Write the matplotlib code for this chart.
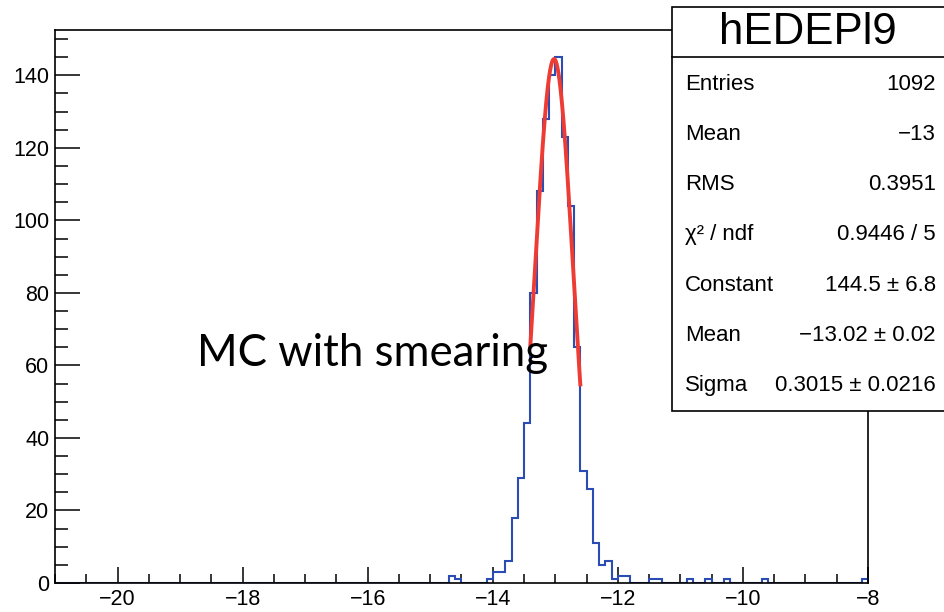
import numpy as np
import matplotlib.pyplot as plt
from matplotlib.patches import Rectangle
from matplotlib.ticker import MultipleLocator

plt.rcParams['font.family'] = ['Liberation Sans', 'DejaVu Sans']

# histogram hEDEPl9: 130 bins of 0.1 from -21 to -8, only non-empty bins listed
bin_low = [-14.7, -14.6, -14.1, -14.0, -13.9, -13.8, -13.7, -13.6, -13.5,
           -13.4, -13.3, -13.2, -13.1, -13.0, -12.9, -12.8, -12.7,
           -12.6, -12.5, -12.4, -12.3, -12.2, -12.1, -12.0, -11.9,
           -11.5, -11.4, -10.9, -10.6, -10.3, -9.7, -8.1]
counts = [2, 1, 1, 3, 3, 6, 18, 29, 44,
          80, 108, 128, 140, 145, 123, 104, 65,
          31, 26, 11, 5, 6, 1, 2, 2,
          1, 1, 1, 1, 1, 1, 1]

# gaus fit results
fit_const = 144.5
fit_mean = -13.02
fit_sigma = 0.3015
fit_range = (-13.4, -12.6)

stats_title = "hEDEPl9"
stats_labels = ["Entries", "Mean", "RMS", "\u03c7\u00b2 / ndf", "Constant", "Mean", "Sigma"]
stats_values = ["1092", "\u221213", "0.3951", "0.9446 / 5", "144.5 \u00b1 6.8",
                "\u221213.02 \u00b1 0.02", "0.3015 \u00b1 0.0216"]

W, H = 945, 612
def fx(px):
    return px / W
def fy(py):
    return 1 - py / H

fig = plt.figure(figsize=(9.45, 6.12), dpi=100)
ax = fig.add_axes([fx(55), fy(583), fx(868) - fx(55), fy(30) - fy(583)])

edges = np.linspace(-21, -8, 131)
centers = np.array(bin_low) + 0.05
ax.hist(centers, bins=edges, weights=counts, histtype='step',
        color='#2b4db3', linewidth=1.5)

xf = np.linspace(fit_range[0], fit_range[1], 300)
yf = fit_const * np.exp(-0.5 * ((xf - fit_mean) / fit_sigma) ** 2)
ax.plot(xf, yf, color='#ee3b34', linewidth=2.8)

ax.set_xlim(-21, -8)
ax.set_ylim(0, 152.5)
ax.xaxis.set_major_locator(MultipleLocator(2))
ax.xaxis.set_minor_locator(MultipleLocator(0.5))
ax.yaxis.set_major_locator(MultipleLocator(20))
ax.yaxis.set_minor_locator(MultipleLocator(5))
ax.tick_params(axis='both', which='both', direction='in', width=1.1,
               labelsize=15.5, pad=4)
ax.tick_params(axis='x', which='major', length=11.5)
ax.tick_params(axis='x', which='minor', length=6.5)
ax.tick_params(axis='y', which='major', length=18)
ax.tick_params(axis='y', which='minor', length=9.5)
for sp in ax.spines.values():
    sp.set_linewidth(1.2)

fig.text(fx(197), fy(366), "MC with smearing", fontsize=31.5,
         family=['Lato', 'DejaVu Sans'], ha='left', va='baseline')

# stats box
fig.add_artist(Rectangle((fx(672), fy(411)), fx(960) - fx(672), fy(7) - fy(411),
                         transform=fig.transFigure, facecolor='white',
                         edgecolor='black', linewidth=1.2, zorder=5))
fig.add_artist(plt.Line2D([fx(672), fx(960)], [fy(57), fy(57)],
                          transform=fig.transFigure, color='black',
                          linewidth=1.2, zorder=6))
fig.text(fx(808), fy(33), stats_title, fontsize=31.5, ha='center', va='center', zorder=7)
for i, (lab, val) in enumerate(zip(stats_labels, stats_values)):
    y = 84 + i * 50.3
    fig.text(fx(685), fy(y), lab, fontsize=16, ha='left', va='center', zorder=7)
    fig.text(fx(936), fy(y), val, fontsize=16, ha='right', va='center', zorder=7)

fig.savefig('out.png', dpi=100)
